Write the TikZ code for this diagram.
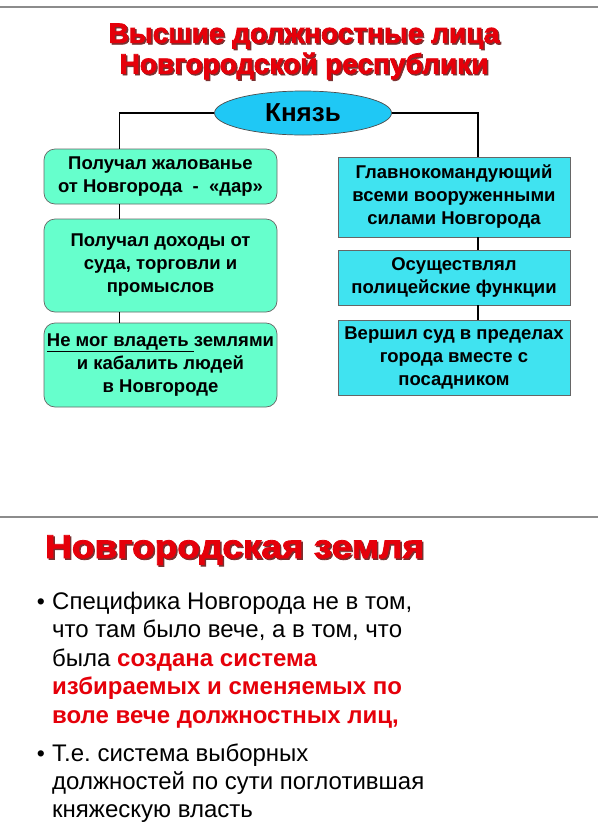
\documentclass[tikz,border=0pt]{standalone}
\usepackage{fontspec}
\setmainfont{Liberation Sans}
\newfontfamily\blk[FakeBold=2.5]{Liberation Sans Bold}
\usetikzlibrary{shapes.geometric}
\definecolor{redt}{HTML}{E5000A}
\definecolor{shad}{HTML}{7A3030}
\definecolor{lbox}{HTML}{66FFCC}
\definecolor{rbox}{HTML}{40E3F0}
\definecolor{ellc}{HTML}{1FC8F5}
\frenchspacing
\begin{document}
\begin{tikzpicture}[x=1pt,y=-1pt,
  sep/.style={draw=black!45, line width=1.6pt},
  ttl/.style={inner sep=0pt, text=redt, font=\blk\fontsize{28}{30}\selectfont},
  ttlsh/.style={inner sep=0pt, text=shad, font=\blk\fontsize{28}{30}\selectfont},
  conn/.style={draw=black, line width=1.6pt},
  bx/.style={draw=black!60, line width=0.7pt, align=center, inner sep=0pt,
    minimum width=233pt, font=\bfseries\fontsize{18.5}{23}\selectfont},
  lbx/.style={bx, fill=lbox, rounded corners=11pt},
  rbx/.style={bx, fill=rbox, minimum width=232pt},
  txt/.style={anchor=base west, inner sep=0pt, font=\fontsize{24}{28}\selectfont},
  rtxt/.style={txt, text=redt, font=\bfseries\fontsize{24}{28}\selectfont},
  bul/.style={anchor=base, inner sep=0pt, font=\fontsize{23}{24}\selectfont}]
\useasboundingbox (0,0) rectangle (598,836);
\fill[white] (0,0) rectangle (598,836);
% separators
\coordinate (s1a) at (0,7); \coordinate (s1b) at (598,7);
\draw[sep] (s1a) -- (s1b);
\coordinate (s2a) at (0,517); \coordinate (s2b) at (598,517);
\draw[sep] (s2a) -- (s2b);
% title
\node[ttlsh] (t1s) at (305.5,37.5) {Высшие должностные лица};
\node[ttl] (t1) at (304,36) {Высшие должностные лица};
\node[ttlsh] (t2s) at (305.5,67.5) {Новгородской республики};
\node[ttl] (t2) at (304,66) {Новгородской республики};
% prince
\node[ellipse, draw=black!70, line width=0.7pt, fill=ellc, minimum width=177pt,
  minimum height=44pt, inner sep=0pt, font=\bfseries\fontsize{26}{28}\selectfont]
  (kn) at (303,113) {Князь};
% left boxes
\node[lbx, minimum height=55pt] (L1) at (160.5,176.5) {Получал жалованье\\от Новгорода \ - \ «дар»};
\node[lbx, minimum height=93pt] (L2) at (160.5,265.5) {Получал доходы от\\суда, торговли и\\промыслов};
\node[lbx, minimum height=84pt] (L3) at (160.5,365) {\underline{Не мог владеть\ }землями\\и кабалить людей\\в Новгороде};
% right boxes
\node[rbx, minimum height=80pt] (R1) at (454,197) {Главнокомандующий\\всеми вооруженными\\силами Новгорода};
\node[rbx, minimum height=55pt] (R2) at (454,277.5) {Осуществлял\\полицейские функции};
\node[rbx, minimum height=75pt] (R3) at (454,357.5) {Вершил суд в пределах\\города вместе с\\посадником};
% connectors
\draw[conn] (kn.west) -| ([xshift=-41pt]L1.north);
\draw[conn] ([xshift=-41pt]L1.south) -- ([xshift=-41pt]L2.north);
\draw[conn] ([xshift=-41pt]L2.south) -- ([xshift=-41pt]L3.north);
\draw[conn] (kn.east) -| ([xshift=24pt]R1.north);
\draw[conn] ([xshift=24pt]R1.south) -- ([xshift=24pt]R2.north);
\draw[conn] ([xshift=24pt]R2.south) -- ([xshift=24pt]R3.north);
% second slide
\node[ttlsh, anchor=base west, font=\blk\fontsize{33}{36}\selectfont] (t3s) at (46.5,559.5) {\scalebox{1.12}[1]{Новгородская земля}};
\node[ttl, anchor=base west, font=\blk\fontsize{33}{36}\selectfont] (t3) at (45,558) {\scalebox{1.12}[1]{Новгородская земля}};
\node[bul] (b1) at (41,609) {•};
\node[txt] (l1) at (52,609) {Специфика Новгорода не в том,};
\node[txt] (l2) at (52,637.5) {что там было вече, а в том, что};
\node[txt] (l3) at (52,666) {была \textcolor{redt}{\bfseries создана система}};
\node[rtxt] (l4) at (52,694.5) {избираемых и сменяемых по};
\node[rtxt] (l5) at (52,723) {воле вече должностных лиц,};
\node[bul] (b2) at (41,761) {•};
\node[txt] (l6) at (52,761) {Т.е. система выборных};
\node[txt] (l7) at (52,789) {должностей по сути поглотившая};
\node[txt] (l8) at (52,817) {княжескую власть};
\end{tikzpicture}
\end{document}
